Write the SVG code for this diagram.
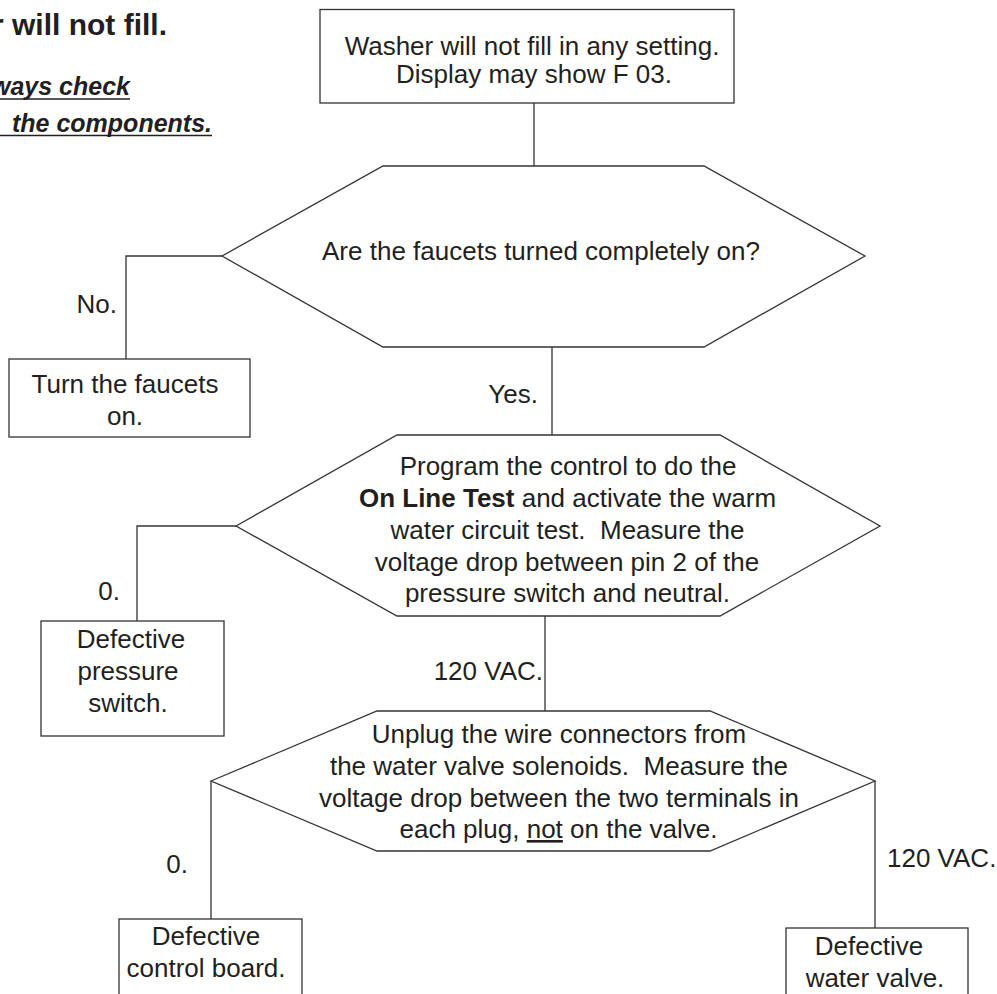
<svg xmlns="http://www.w3.org/2000/svg" width="997" height="994" viewBox="0 0 997 994">
<style>
  text { font-family: "Liberation Sans", Arial, sans-serif; font-size: 26px; fill: #231f20; }
  .c { text-anchor: middle; }
  .e { text-anchor: end; }
  .title { font-weight: bold; font-size: 30px; }
  .note { font-weight: bold; font-style: italic; font-size: 25px; }
  .shape { fill: #ffffff; stroke: #333333; stroke-width: 1.3; }
  .conn { fill: none; stroke: #333333; stroke-width: 1.3; }
  .ul { stroke: #231f20; stroke-width: 1.6; }
</style>
<rect x="0" y="0" width="997" height="994" fill="#ffffff"/>

<g id="heading">
  <text class="title e" x="167" y="35">r will not fill.</text>
  <text class="note e" x="130" y="95">ways check</text>
  <line class="ul" x1="0" y1="99" x2="130" y2="99"/>
  <text class="note e" x="212" y="132">the components.</text>
  <line class="ul" x1="0" y1="135.5" x2="212" y2="135.5"/>
</g>

<g id="connectors">
  <line class="conn" x1="534" y1="103" x2="534" y2="166"/>
  <line class="conn" x1="552" y1="347" x2="552" y2="435"/>
  <line class="conn" x1="545" y1="616" x2="545" y2="711"/>
  <polyline class="conn" points="222,256 126,256 126,359"/>
  <polyline class="conn" points="236,526 137,526 137,621"/>
  <line class="conn" x1="211" y1="781" x2="211" y2="919"/>
  <line class="conn" x1="875" y1="781" x2="875" y2="928"/>
  <text class="e" x="117" y="313">No.</text>
  <text class="e" x="538" y="403">Yes.</text>
  <text class="e" x="120" y="600">0.</text>
  <text class="e" x="543" y="680">120 VAC.</text>
  <text class="e" x="188" y="873">0.</text>
  <text x="887" y="867">120 VAC.</text>
</g>

<g id="start">
  <rect class="shape" x="320" y="9.5" width="414" height="93.5"/>
  <text class="c" x="532" y="55">Washer will not fill in any setting.</text>
  <text class="c" x="534" y="83">Display may show F 03.</text>
</g>

<g id="q-faucets">
  <polygon class="shape" points="222,256 383,166 704,166 865,256 704,347 383,347"/>
  <text class="c" x="541" y="260">Are the faucets turned completely on?</text>
</g>

<g id="turn-faucets">
  <rect class="shape" x="9" y="359" width="241" height="78"/>
  <text class="c" x="125" y="393">Turn the faucets</text>
  <text class="c" x="125" y="425">on.</text>
</g>

<g id="q-online-test">
  <polygon class="shape" points="236,526 397,435 720,435 880,526 720,616 397,616"/>
  <text class="c" x="568" y="475">Program the control to do the</text>
  <text class="c" x="567.5" y="507"><tspan font-weight="bold">On Line Test</tspan> and activate the warm</text>
  <text class="c" x="567.5" y="539">water circuit test.&#160; Measure the</text>
  <text class="c" x="567" y="571">voltage drop between pin 2 of the</text>
  <text class="c" x="567.5" y="602">pressure switch and neutral.</text>
</g>

<g id="pressure-switch">
  <rect class="shape" x="41" y="621" width="183" height="115"/>
  <text class="c" x="131" y="648">Defective</text>
  <text class="c" x="128" y="680">pressure</text>
  <text class="c" x="128" y="712">switch.</text>
</g>

<g id="q-valve">
  <polygon class="shape" points="211,781 377,711 710,711 875,781 710,851 377,851"/>
  <text class="c" x="559" y="743">Unplug the wire connectors from</text>
  <text class="c" x="559" y="775">the water valve solenoids.&#160; Measure the</text>
  <text class="c" x="559" y="807">voltage drop between the two terminals in</text>
  <text class="c" x="558.5" y="838">each plug, <tspan text-decoration="underline">not</tspan> on the valve.</text>
</g>

<g id="control-board">
  <rect class="shape" x="119" y="919" width="183" height="90"/>
  <text class="c" x="206" y="945">Defective</text>
  <text class="c" x="206" y="977">control board.</text>
</g>

<g id="water-valve">
  <rect class="shape" x="786" y="928" width="182" height="90"/>
  <text class="c" x="869" y="955">Defective</text>
  <text class="c" x="875" y="987">water valve.</text>
</g>
</svg>
